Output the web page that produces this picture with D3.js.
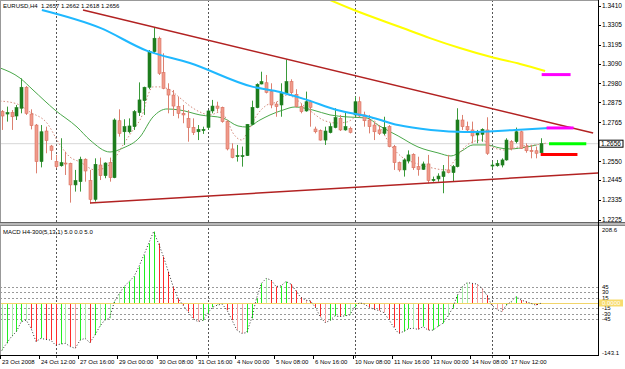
<!DOCTYPE html>
<html><head><meta charset="utf-8">
<script src="https://cdn.jsdelivr.net/npm/d3@7"></script>
<style>body{margin:0;background:#fff}svg{display:block}text{font-family:"Liberation Sans",Arial,sans-serif}</style>
</head><body><svg id="c" width="625" height="369"></svg>
<script>
// ---------- DATA ----------
const opens  = [1.2824,1.2811,1.2819,1.2800,1.2843,1.2959,1.2811,1.2750,1.2548,1.2717,1.2634,1.2548,1.2525,1.2540,1.2538,1.2419,1.2437,1.2561,1.2443,1.2339,1.2529,1.2470,1.2542,1.2459,1.2774,1.2713,1.2713,1.2741,1.2819,1.2885,1.2959,1.3156,1.3230,1.3040,1.2948,1.2916,1.2852,1.2815,1.2787,1.2737,1.2713,1.2719,1.2737,1.2828,1.2855,1.2848,1.2769,1.2618,1.2577,1.2577,1.2581,1.2754,1.2846,1.2977,1.2984,1.2935,1.2866,1.2861,1.2925,1.2990,1.2920,1.2852,1.2828,1.2879,1.2728,1.2719,1.2667,1.2708,1.2736,1.2787,1.2723,1.2732,1.2806,1.2879,1.2806,1.2778,1.2750,1.2723,1.2704,1.2741,1.2631,1.2542,1.2502,1.2551,1.2588,1.2520,1.2505,1.2535,1.2443,1.2452,1.2465,1.2502,1.2487,1.2520,1.2778,1.2741,1.2723,1.2695,1.2699,1.2723,1.2524,1.2525,1.2529,1.2557,1.2658,1.2658,1.2713,1.2631,1.2610,1.2608,1.2597];
const highs  = [1.2833,1.2852,1.2833,1.2861,1.3008,1.2966,1.2837,1.2756,1.2750,1.2741,1.2640,1.2585,1.2677,1.2603,1.2542,1.2502,1.2575,1.2566,1.2502,1.2566,1.2570,1.2544,1.2570,1.2787,1.2837,1.2782,1.2787,1.2833,1.2986,1.2962,1.3165,1.3292,1.3239,1.3147,1.2981,1.2944,1.2907,1.2861,1.2833,1.2787,1.2750,1.2741,1.2833,1.2889,1.2879,1.2852,1.2774,1.2649,1.2640,1.2631,1.2756,1.2885,1.2981,1.3045,1.3027,1.2981,1.2879,1.2981,1.3113,1.3003,1.2948,1.2870,1.2935,1.2889,1.2741,1.2726,1.2741,1.2760,1.2843,1.2806,1.2824,1.2741,1.2907,1.2907,1.2824,1.2806,1.2769,1.2750,1.2796,1.2750,1.2640,1.2548,1.2566,1.2610,1.2594,1.2575,1.2548,1.2585,1.2465,1.2483,1.2529,1.2585,1.2529,1.2843,1.2806,1.2769,1.2769,1.2723,1.2732,1.2793,1.2548,1.2557,1.2566,1.2677,1.2667,1.2736,1.2719,1.2649,1.2640,1.2631,1.2677];
const lows   = [1.2723,1.2769,1.2723,1.2778,1.2815,1.2806,1.2726,1.2483,1.2516,1.2594,1.2557,1.2511,1.2520,1.2474,1.2321,1.2382,1.2382,1.2437,1.2317,1.2327,1.2446,1.2456,1.2437,1.2456,1.2686,1.2640,1.2704,1.2723,1.2800,1.2806,1.2948,1.3147,1.3027,1.2948,1.2815,1.2800,1.2787,1.2760,1.2658,1.2695,1.2667,1.2701,1.2723,1.2815,1.2824,1.2763,1.2610,1.2566,1.2548,1.2520,1.2579,1.2750,1.2843,1.2975,1.2925,1.2843,1.2796,1.2796,1.2922,1.2916,1.2848,1.2815,1.2824,1.2741,1.2704,1.2664,1.2640,1.2704,1.2732,1.2717,1.2719,1.2704,1.2793,1.2793,1.2741,1.2704,1.2667,1.2695,1.2695,1.2627,1.2502,1.2492,1.2465,1.2538,1.2502,1.2470,1.2502,1.2428,1.2437,1.2437,1.2373,1.2483,1.2437,1.2516,1.2723,1.2713,1.2649,1.2649,1.2658,1.2585,1.2511,1.2520,1.2516,1.2553,1.2610,1.2649,1.2618,1.2597,1.2566,1.2566,1.2594];
const closes = [1.2800,1.2819,1.2796,1.2846,1.2959,1.2815,1.2747,1.2548,1.2713,1.2664,1.2610,1.2520,1.2542,1.2535,1.2419,1.2443,1.2561,1.2496,1.2339,1.2533,1.2470,1.2540,1.2459,1.2778,1.2704,1.2741,1.2745,1.2824,1.2889,1.2959,1.3156,1.3230,1.3036,1.2953,1.2916,1.2855,1.2815,1.2806,1.2736,1.2708,1.2726,1.2726,1.2828,1.2855,1.2843,1.2769,1.2618,1.2570,1.2581,1.2581,1.2754,1.2848,1.2975,1.2990,1.2931,1.2861,1.2852,1.2925,1.2990,1.2929,1.2852,1.2824,1.2879,1.2848,1.2713,1.2667,1.2717,1.2741,1.2791,1.2723,1.2741,1.2710,1.2879,1.2800,1.2774,1.2741,1.2713,1.2704,1.2736,1.2631,1.2542,1.2502,1.2557,1.2585,1.2514,1.2505,1.2535,1.2443,1.2450,1.2468,1.2492,1.2487,1.2520,1.2778,1.2741,1.2723,1.2690,1.2713,1.2726,1.2594,1.2529,1.2538,1.2557,1.2667,1.2621,1.2713,1.2621,1.2608,1.2603,1.2594,1.2647];

const macdValues = [-133,-113,-94,-80,-52,-48,-71,-108,-99,-102,-104,-118,-115,-113,-122,-127,-104,-99,-111,-90,-66,-48,-43,4,27,46,60,74,102,134,167,200,167,130,88,46,13,-6,-24,-43,-52,-49,-29,-12,-6,-3,-20,-48,-76,-85,-83,-43,13,55,69,64,46,48,60,53,35,16,8,6,-12,-38,-55,-49,-36,-38,-36,-34,-12,1,-3,-12,-18,-21,-27,-46,-68,-85,-80,-72,-71,-74,-66,-76,-76,-66,-57,-38,-15,22,46,57,55,53,41,22,-6,-18,-24,-6,4,18,8,4,-1,-6,-1];

// moving averages as [bar, value]
const maBlue = [[8.2,1.3386],[20.1,1.3287],[29.7,1.3160],[38.4,1.3093],[51.3,1.2961],[56.8,1.2933],[62.3,1.2889],[68.4,1.2833],[75.2,1.2795],[80.9,1.2750],[87.6,1.2723],[94.5,1.2712],[104.8,1.2723],[111.5,1.2734]];
const maYellow = [[66.0,1.3453],[71.9,1.3386],[81.3,1.3292],[87.4,1.3231],[93.5,1.3176],[99.9,1.3126],[105.8,1.3088],[110.9,1.3049]];
const maGreen = [[-0.35,1.3066],[3.73,1.3010],[6.39,1.2944],[10.88,1.2833],[15.37,1.2739],[18.02,1.2667],[22.1,1.2601],[24.76,1.2623],[28.22,1.2684],[30.88,1.2795],[33.73,1.2839],[36.39,1.2833],[40.47,1.2806],[45.16,1.2789],[48.22,1.2745],[50.06,1.2739],[52.71,1.2778],[54.76,1.2806],[57.41,1.2833],[59.86,1.2850],[63.53,1.2833],[67.0,1.2806],[70.47,1.2795],[74.55,1.2789],[76.8,1.2750],[80.9,1.2690],[84.96,1.2629],[89.04,1.2596],[91.69,1.2579],[93.9,1.2607],[96.18,1.2640],[99.0,1.2640],[101.7,1.2623],[103.7,1.2618],[107.2,1.2629],[109.2,1.2640]];
const maDotted = [[-0.35,1.2883],[3.12,1.2867],[5.78,1.2822],[9.24,1.2761],[11.9,1.2640],[13.94,1.2573],[15.98,1.2546],[19.04,1.2502],[21.08,1.2513],[23.12,1.2568],[24.76,1.2640],[26.8,1.2723],[28.84,1.2817],[29.86,1.2916],[30.88,1.2961],[32.31,1.2961],[34.35,1.2944],[36.39,1.2900],[38.43,1.2855],[40.47,1.2822],[42.51,1.2806],[44.55,1.2822],[45.98,1.2778],[47.2,1.2706],[49.04,1.2667],[50.06,1.2706],[52.1,1.2806],[54.14,1.2861],[56.18,1.2878],[58.22,1.2916],[59.45,1.2905],[61.49,1.2861],[63.53,1.2817],[65.57,1.2778],[68.43,1.2761],[70.47,1.2767],[73.12,1.2806],[75.16,1.2795],[76.8,1.2750],[79.65,1.2629],[81.69,1.2573],[84.35,1.2540],[87.82,1.2513],[90.47,1.2502],[92.51,1.2557],[93.94,1.2612],[95.98,1.2656],[98.02,1.2667],[100.06,1.2629],[102.71,1.2612],[106.18,1.2634],[108.84,1.2640],[111.29,1.2651]];
const trendUpper = [[16.59,1.3386],[120.7,1.2706]];
const trendLower = [[18.02,1.2319],[121.7,1.2485]];

const markerLevels = [1.3029,1.2734,1.2647,1.2587];
const markerFrom   = [110.2,111.2,111.7,110.0];
const markerTo     = [116.1,116.7,119.3,117.5];

const priceTicks = [1.3410,1.3305,1.3195,1.3090,1.2980,1.2875,1.2765,1.2550,1.2445,1.2335,1.2225];
const bidText = "1.2656";
const macdLevels = [45,30,15,-15,-30,-45];
const macdMax = 208.6, macdMin = -143.1;
const timeLabels = ["23 Oct 2008","24 Oct 12:00","27 Oct 16:00","29 Oct 00:00","30 Oct 08:00","31 Oct 16:00","4 Nov 00:00","5 Nov 08:00","6 Nov 16:00","10 Nov 08:00","11 Nov 16:00","13 Nov 00:00","14 Nov 08:00","17 Nov 12:00"];
const timeLabelBars = [0,8,16,24,32,40,48,56,64,72,80,88,96,104];
const weekStartBars = [11,42,72,100];
const title = "EURUSD,H4  1.2657 1.2662 1.2618 1.2656";
const macdTitle = "MACD H4-300(5,13,1) 5.0 0.0 5.0";

// ---------- LAYOUT ----------
const svg = d3.select("#c");
const plotR = 598, mainTop = 0, mainBot = 222, macdTop = 226, macdBot = 355;
const x = d3.scaleLinear().domain([0,110]).range([1.7,540.7]);
const y = d3.scaleLinear().domain([1.2225,1.3410]).range([220,5.7]);
const ym = d3.scaleLinear().domain([macdMin,macdMax]).range([354.1,228.5]);

const defs = svg.append("defs");
defs.append("clipPath").attr("id","cm").append("rect").attr("x",0).attr("y",mainTop).attr("width",plotR).attr("height",mainBot-mainTop);
defs.append("clipPath").attr("id","cd").append("rect").attr("x",0).attr("y",macdTop).attr("width",plotR).attr("height",macdBot-macdTop);

svg.append("rect").attr("width",625).attr("height",369).attr("fill","#fff");

// week separators
svg.append("g").selectAll("line").data(weekStartBars).join("line")
  .attr("x1",d=>Math.round(x(d))+0.5).attr("x2",d=>Math.round(x(d))+0.5)
  .attr("y1",0).attr("y2",macdBot+3).attr("stroke","#555").attr("stroke-dasharray","2,2").attr("stroke-width",1);

const main = svg.append("g").attr("clip-path","url(#cm)");
const lastClose = closes[closes.length-1];
// bid line
main.append("line").attr("x1",0).attr("x2",plotR).attr("y1",y(lastClose)).attr("y2",y(lastClose)).attr("stroke","#d8d8d8").attr("stroke-width",1);

const line = d3.line().x(d=>x(d[0])).y(d=>y(d[1])).curve(d3.curveMonotoneX);
main.append("path").datum(maGreen).attr("d",line).attr("fill","none").attr("stroke","#4aa84a").attr("stroke-width",1);
main.append("path").datum(maDotted).attr("d",line).attr("fill","none").attr("stroke","#d48a7c").attr("stroke-width",1).attr("stroke-dasharray","1.5,2");

// candles
const idx = d3.range(opens.length);
const bull = i => closes[i] >= opens[i];
main.append("g").selectAll("line").data(idx).join("line")
  .attr("x1",i=>Math.round(x(i))+0.5).attr("x2",i=>Math.round(x(i))+0.5)
  .attr("y1",i=>y(highs[i])).attr("y2",i=>y(lows[i]))
  .attr("stroke",i=>bull(i)?"#3a9a3a":"#dc8070").attr("stroke-width",1);
main.append("g").selectAll("rect").data(idx).join("rect")
  .attr("x",i=>Math.round(x(i))-1)
  .attr("y",i=>y(Math.max(opens[i],closes[i])))
  .attr("width",3)
  .attr("height",i=>Math.max(1,Math.abs(y(opens[i])-y(closes[i]))))
  .attr("fill",i=>bull(i)?"#1d7d1d":"#ef9a8a")
  .attr("stroke",i=>bull(i)?"#217f21":"#d9705f").attr("stroke-width",0.6);

main.append("path").datum(maBlue).attr("d",line.curve(d3.curveMonotoneX)).attr("fill","none").attr("stroke","#1fb8ff").attr("stroke-width",2);
main.append("path").datum(maYellow).attr("d",line).attr("fill","none").attr("stroke","#ffff00").attr("stroke-width",2);
const straight = d3.line().x(d=>x(d[0])).y(d=>y(d[1]));
[trendUpper,trendLower].forEach(t=>main.append("path").datum(t).attr("d",straight).attr("fill","none").attr("stroke","#b22222").attr("stroke-width",1.5));

const markerColors = ["#ff00ff","#ff00ff","#00ff00","#ff0000"];
main.append("g").selectAll("line").data(markerLevels).join("line")
  .attr("x1",(d,i)=>x(markerFrom[i])).attr("x2",(d,i)=>x(markerTo[i]))
  .attr("y1",d=>y(d)).attr("y2",d=>y(d)).attr("stroke",(d,i)=>markerColors[i]).attr("stroke-width",3);

// ---------- MACD ----------
const md = svg.append("g").attr("clip-path","url(#cd)");
md.append("g").selectAll("line").data(macdLevels).join("line")
  .attr("x1",0).attr("x2",plotR).attr("y1",d=>Math.round(ym(d))+0.5).attr("y2",d=>Math.round(ym(d))+0.5)
  .attr("stroke","#999").attr("stroke-dasharray","2,2");
const z0 = Math.round(ym(0))+0.5;
const macdColor = i => {
  const up = i===0 ? true : macdValues[i] >= macdValues[i-1];
  const strong = bull(i);
  return up ? (strong ? "#22ee22" : "#a8f0a8") : (strong ? "#f7a0a0" : "#ff2a2a");
};
md.append("g").selectAll("line").data(idx).join("line")
  .attr("x1",i=>Math.round(x(i))+0.5).attr("x2",i=>Math.round(x(i))+0.5)
  .attr("y1",z0).attr("y2",i=>ym(macdValues[i]))
  .attr("stroke",macdColor).attr("stroke-width",1);
md.append("line").attr("x1",0).attr("x2",plotR).attr("y1",z0).attr("y2",z0).attr("stroke","#f2d56a").attr("stroke-width",1);
md.append("path").datum(idx).attr("d",d3.line().x(i=>x(i)).y(i=>ym(macdValues[i])))
  .attr("fill","none").attr("stroke","#333").attr("stroke-width",1).attr("stroke-dasharray","1,2");

// ---------- FRAME ----------
svg.append("line").attr("x1",0).attr("x2",plotR).attr("y1",0.5).attr("y2",0.5).attr("stroke","#999");
svg.append("line").attr("x1",0.5).attr("x2",0.5).attr("y1",0).attr("y2",macdBot).attr("stroke","#999");
svg.append("rect").attr("x",0).attr("y",mainBot).attr("width",625).attr("height",macdTop-mainBot).attr("fill","#b8b8b8");
svg.append("line").attr("x1",0).attr("x2",625).attr("y1",mainBot+0.5).attr("y2",mainBot+0.5).attr("stroke","#666");
svg.append("line").attr("x1",0).attr("x2",625).attr("y1",macdTop-0.5).attr("y2",macdTop-0.5).attr("stroke","#888");
svg.append("line").attr("x1",plotR+0.5).attr("x2",plotR+0.5).attr("y1",0).attr("y2",macdBot).attr("stroke","#000");
svg.append("line").attr("x1",0).attr("x2",plotR+1).attr("y1",macdBot+0.5).attr("y2",macdBot+0.5).attr("stroke","#000");

// price axis
const pa = svg.append("g");
priceTicks.forEach(p=>{
  pa.append("line").attr("x1",plotR).attr("x2",plotR+3).attr("y1",Math.round(y(p))+0.5).attr("y2",Math.round(y(p))+0.5).attr("stroke","#000");
  pa.append("text").attr("x",plotR+4).attr("y",y(p)).attr("dy","0.35em").attr("font-size",6.5).attr("fill","#000").text(p.toFixed(4));
});
pa.append("rect").attr("x",plotR+1).attr("y",y(lastClose)-3.5).attr("width",24).attr("height",7).attr("fill","#fff").attr("stroke","#000").attr("stroke-width",1);
pa.append("text").attr("x",plotR+3).attr("y",y(lastClose)).attr("dy","0.35em").attr("font-size",6.5).attr("fill","#000").text(bidText);

// macd axis
const ma = svg.append("g");
macdLevels.forEach(v=>{
  ma.append("text").attr("x",plotR+4).attr("y",ym(v)).attr("dy","0.35em").attr("font-size",6).text(String(v));
});
ma.append("rect").attr("x",plotR+1).attr("y",ym(0)-3.5).attr("width",24).attr("height",7).attr("fill","#f7dc6f");
ma.append("text").attr("x",plotR+4).attr("y",ym(0)).attr("dy","0.35em").attr("font-size",6).attr("fill","#fff").text("0.0000");
ma.append("text").attr("x",plotR+4).attr("y",ym(macdMax)+1.5).attr("dy","0.35em").attr("font-size",6).text(macdMax.toFixed(1));
ma.append("text").attr("x",plotR+4).attr("y",ym(macdMin)-1).attr("dy","0.35em").attr("font-size",6).text(macdMin.toFixed(1));

// time axis
const ta = svg.append("g");
timeLabelBars.forEach((b,k)=>{
  const tx = Math.round(x(b))-1.5;
  ta.append("line").attr("x1",tx).attr("x2",tx).attr("y1",macdBot).attr("y2",macdBot+4).attr("stroke","#000");
  ta.append("text").attr("x",tx+1.5).attr("y",363.5).attr("font-size",6).attr("fill","#000").text(timeLabels[k]);
});

// titles
svg.append("text").attr("x",3).attr("y",8).attr("font-size",6).attr("fill","#000").text(title).attr("xml:space","preserve");
svg.append("text").attr("x",3).attr("y",233.5).attr("font-size",6).attr("fill","#000").text(macdTitle);
</script></body></html>
